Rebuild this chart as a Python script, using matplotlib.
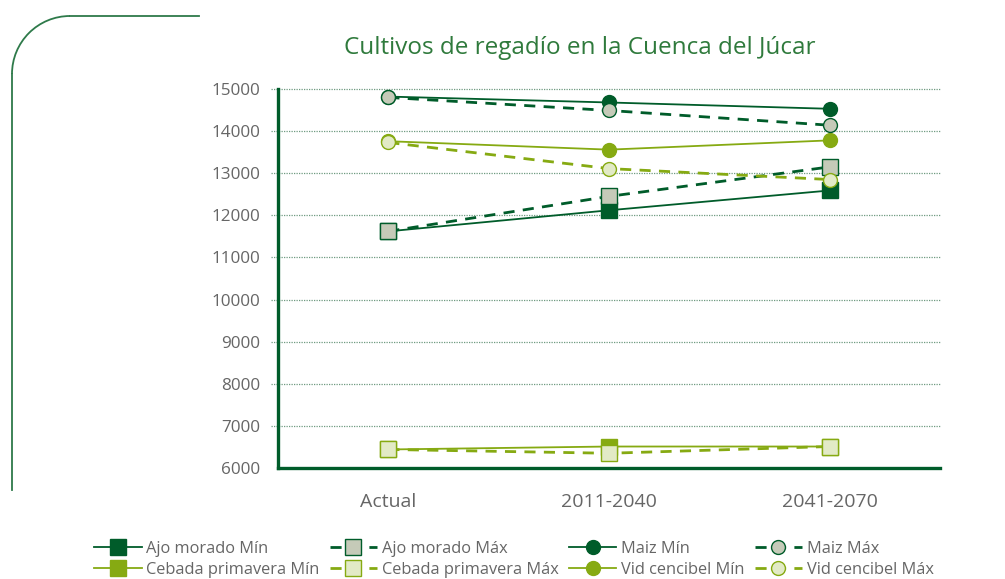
import numpy as np
import matplotlib
matplotlib.use("Agg")
import matplotlib.pyplot as plt
from matplotlib.lines import Line2D
from matplotlib.patches import Arc

plt.rcParams['font.family'] = ['Open Sans', 'DejaVu Sans']

# data
periods = ['Actual', '2011-2040', '2041-2070']
ajo_min = [11620, 12120, 12590]
ajo_max = [11620, 12450, 13150]
cebada_min = [6440, 6510, 6510]
cebada_max = [6440, 6350, 6510]
maiz_min = [14820, 14680, 14530]
maiz_max = [14800, 14490, 14140]
vid_min = [13760, 13560, 13780]
vid_max = [13730, 13110, 12850]
y_ticks = list(range(6000, 15001, 1000))

DARK = '#005c2a'
DARK_FILL = '#c5cab8'
LIGHT = '#86aa12'
LIGHT_FILL = '#e2eac6'
GRID = '#6f9a80'
TEXT = '#666666'

W, H = 1005, 579
fig = plt.figure(figsize=(W / 100, H / 100), dpi=100)
ax = fig.add_axes([278 / W, 1 - 468 / H, 662 / W, 379 / H])

x = np.arange(len(periods))

series = [
    # label, values, line color, face, marker, linestyle, lw
    ('Ajo morado Mín', ajo_min, DARK, DARK, 's', '-', 1.3),
    ('Cebada primavera Mín', cebada_min, LIGHT, LIGHT, 's', '-', 1.3),
    ('Ajo morado Máx', ajo_max, DARK, DARK_FILL, 's', '--', 2.0),
    ('Cebada primavera Máx', cebada_max, LIGHT, LIGHT_FILL, 's', '--', 2.0),
    ('Maiz Mín', maiz_min, DARK, DARK, 'o', '-', 1.3),
    ('Vid cencibel Mín', vid_min, LIGHT, LIGHT, 'o', '-', 1.3),
    ('Maiz Máx', maiz_max, DARK, DARK_FILL, 'o', '--', 2.0),
    ('Vid cencibel Máx', vid_max, LIGHT, LIGHT_FILL, 'o', '--', 2.0),
]

handles = []
for label, vals, col, face, mk, ls, lw in series:
    ms = 11 if mk == 's' else 10
    h, = ax.plot(x, vals, color=col, linestyle=ls, linewidth=lw,
                 marker=mk, markersize=ms, markerfacecolor=face,
                 markeredgecolor=col, markeredgewidth=1.0,
                 dashes=(4, 3) if ls == '--' else (None, None),
                 label=label, zorder=3)
    h.set_solid_joinstyle('round')
    handles.append(h)

ax.set_xlim(-0.5, 2.5)
ax.set_ylim(6000, 15000)
ax.set_yticks(y_ticks)
ax.set_xticks(x)
ax.set_xticklabels(periods, fontsize=14, color=TEXT)
ax.tick_params(axis='y', length=0, pad=13, labelsize=12.3, labelcolor=TEXT)
ax.tick_params(axis='x', length=0, pad=18)

# dotted gridlines, running a little past the left spine
ax.hlines(y_ticks[1:], -0.01, 1, transform=ax.get_yaxis_transform(),
          colors=GRID, linestyles=(0, (1, 1)), linewidth=0.9,
          clip_on=False, zorder=1)

for s in ['top', 'right']:
    ax.spines[s].set_visible(False)
for s in ['left', 'bottom']:
    ax.spines[s].set_color(DARK)
    ax.spines[s].set_linewidth(2.4)
    ax.spines[s].set_zorder(4)

fig.text(580 / W, 1 - 48 / H, 'Cultivos de regadío en la Cuenca del Júcar',
         ha='center', va='center', fontsize=17.5, color='#2f7a3c')

fig.legend(handles=handles, loc='upper left', bbox_to_anchor=(94 / W, 1 - 541 / H),
           ncol=4, frameon=False, fontsize=11.8, labelcolor=TEXT,
           handlelength=2.9, handletextpad=0.3, columnspacing=0.6,
           labelspacing=0.3, borderaxespad=0, borderpad=0)

# decorative rounded frame on the left
r = 58
frame_col = '#2e7a4a'
fig.add_artist(Line2D([(12 + r) / W, 199 / W], [1 - 16 / H, 1 - 16 / H],
                      transform=fig.transFigure, color=frame_col, linewidth=1.3))
fig.add_artist(Line2D([12 / W, 12 / W], [1 - (16 + r) / H, 1 - 490 / H],
                      transform=fig.transFigure, color=frame_col, linewidth=1.3))
fig.add_artist(Arc(((12 + r) / W, 1 - (16 + r) / H), 2 * r / W, 2 * r / H,
                   theta1=90, theta2=180, transform=fig.transFigure,
                   color=frame_col, linewidth=1.3))

fig.savefig('out.png', dpi=100, facecolor='white')
